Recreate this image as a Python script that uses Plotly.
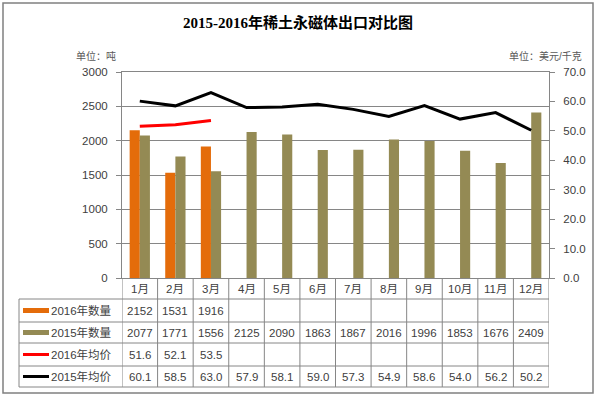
import plotly.graph_objects as go

# ---------------- data ----------------
months = ["1月", "2月", "3月", "4月", "5月", "6月", "7月", "8月", "9月", "10月", "11月", "12月"]
qty_2016 = [2152, 1531, 1916, None, None, None, None, None, None, None, None, None]
qty_2015 = [2077, 1771, 1556, 2125, 2090, 1863, 1867, 2016, 1996, 1853, 1676, 2409]
price_2016 = [51.6, 52.1, 53.5, None, None, None, None, None, None, None, None, None]
price_2015 = [60.1, 58.5, 63.0, 57.9, 58.1, 59.0, 57.3, 54.9, 58.6, 54.0, 56.2, 50.2]
series_names = ["2016年数量", "2015年数量", "2016年均价", "2015年均价"]
left_ticks = [0, 500, 1000, 1500, 2000, 2500, 3000]
right_ticks = [0, 10, 20, 30, 40, 50, 60, 70]
title_text = "2015-2016年稀土永磁体出口对比图"
unit_left = "单位：吨"
unit_right = "单位：美元/千克"

# ---------------- style ----------------
W, H = 597, 395
PL, PR, PT, PB = 122, 549, 72, 278  # plot area pixel box
colors = ["#E46C0A", "#948A54", "#FF0000", "#000000"]
grid = "#868686"
FONT = "Liberation Sans, Noto Sans CJK SC, sans-serif"
txt = "#404040"

def px(x):
    return (x - PL) / (PR - PL)

def py(y):
    return (PB - y) / (PB - PT)

fig = go.Figure()
fig.add_trace(go.Bar(x=months, y=qty_2016, name=series_names[0], marker=dict(color=colors[0], line=dict(width=0))))
fig.add_trace(go.Bar(x=months, y=qty_2015, name=series_names[1], marker=dict(color=colors[1], line=dict(width=0))))
fig.add_trace(go.Scatter(x=months, y=price_2016, name=series_names[2], mode="lines", yaxis="y2",
                         line=dict(color=colors[2], width=3)))
fig.add_trace(go.Scatter(x=months, y=price_2015, name=series_names[3], mode="lines", yaxis="y2",
                         line=dict(color=colors[3], width=3)))

shapes = []
annotations = []

row_lines = [299, 322, 343, 366, 387]
row_centers = [(row_lines[i] + row_lines[i + 1]) / 2 for i in range(4)]
header_center = (PB + row_lines[0]) / 2
leg_left = 19

for yl in row_lines:
    shapes.append(dict(type="line", xref="paper", yref="paper", x0=px(leg_left), x1=1, y0=py(yl), y1=py(yl),
                       line=dict(color=grid, width=1)))
shapes.append(dict(type="line", xref="paper", yref="paper", x0=px(leg_left), x1=px(leg_left),
                   y0=py(row_lines[0]), y1=py(row_lines[-1]), line=dict(color=grid, width=1)))
for k in range(len(months) + 1):
    shapes.append(dict(type="line", xref="x", yref="paper", x0=k - 0.5, x1=k - 0.5,
                       y0=0, y1=py(row_lines[-1]), line=dict(color=grid, width=1)))

for m in months:
    annotations.append(dict(x=m, y=py(header_center), xref="x", yref="paper", text=m, showarrow=False,
                            font=dict(size=11.5, color=txt, family=FONT), xanchor="center", yanchor="middle"))

rows = [qty_2016, qty_2015, price_2016, price_2015]
fmts = ["{:d}", "{:d}", "{:.1f}", "{:.1f}"]
key_w = [5, 5, 3, 3]
for i, name in enumerate(series_names):
    yc = py(row_centers[i])
    shapes.append(dict(type="line", xref="paper", yref="paper", x0=px(23), x1=px(49), y0=yc, y1=yc,
                       line=dict(color=colors[i], width=key_w[i])))
    annotations.append(dict(x=px(49), y=yc, xref="paper", yref="paper", text=name, showarrow=False,
                            font=dict(size=11.5, color=txt, family=FONT), xanchor="left", yanchor="middle"))
    for m, v in zip(months, rows[i]):
        if v is None:
            continue
        annotations.append(dict(x=m, y=yc, xref="x", yref="paper", text=fmts[i].format(v), showarrow=False,
                                font=dict(size=11.5, color=txt, family=FONT), xanchor="center", yanchor="middle"))

annotations.append(dict(x=px(298), y=py(22), xref="paper", yref="paper", text="<b>" + title_text + "</b>",
                        showarrow=False, font=dict(size=15, color="#000000",
                                                   family="Liberation Serif, Noto Sans CJK SC, serif"),
                        xanchor="center", yanchor="middle"))
annotations.append(dict(x=px(118), y=py(56), xref="paper", yref="paper", text=unit_left, showarrow=False,
                        font=dict(size=10, color="#595959", family=FONT), xanchor="right", yanchor="middle"))
annotations.append(dict(x=px(584), y=py(56), xref="paper", yref="paper", text=unit_right, showarrow=False,
                        font=dict(size=10, color="#595959", family=FONT), xanchor="right", yanchor="middle"))

shapes.append(dict(type="rect", xref="paper", yref="paper", x0=px(3), x1=px(593), y0=py(393), y1=py(3),
                   line=dict(color="#808080", width=1.5), fillcolor="rgba(0,0,0,0)"))

fig.update_layout(
    width=W, height=H,
    margin=dict(l=PL, r=W - PR, t=PT, b=H - PB, pad=0),
    paper_bgcolor="white", plot_bgcolor="white",
    barmode="group", bargap=0.43, bargroupgap=0,
    showlegend=False,
    hovermode=False,
    font=dict(family=FONT, size=12, color=txt),
    xaxis=dict(type="category", categoryorder="array", categoryarray=months, range=[-0.5, len(months) - 0.5],
               showticklabels=False, ticks="", showgrid=False, showline=True, linecolor=grid, linewidth=1,
               mirror=True, zeroline=False),
    yaxis=dict(range=[0, 3000], tickvals=left_ticks, ticktext=[str(t) for t in left_ticks],
               showgrid=True, gridcolor=grid, gridwidth=1, showline=True, linecolor=grid, linewidth=1,
               ticks="outside", ticklen=5, tickcolor=grid, ticklabelstandoff=6,
               tickfont=dict(size=11.5, color=txt, family=FONT), zeroline=False),
    yaxis2=dict(range=[0, 70], tickvals=right_ticks, ticktext=["{:.1f}".format(t) for t in right_ticks],
                overlaying="y", side="right", showgrid=False, showline=True, linecolor=grid, linewidth=1,
                ticks="outside", ticklen=5, tickcolor=grid, ticklabelstandoff=6,
                tickfont=dict(size=11.5, color=txt, family=FONT), zeroline=False),
    shapes=shapes,
    annotations=annotations,
)

fig.write_html("out.html", config={"displayModeBar": False},
               post_script="document.body.style.margin='0px';")
